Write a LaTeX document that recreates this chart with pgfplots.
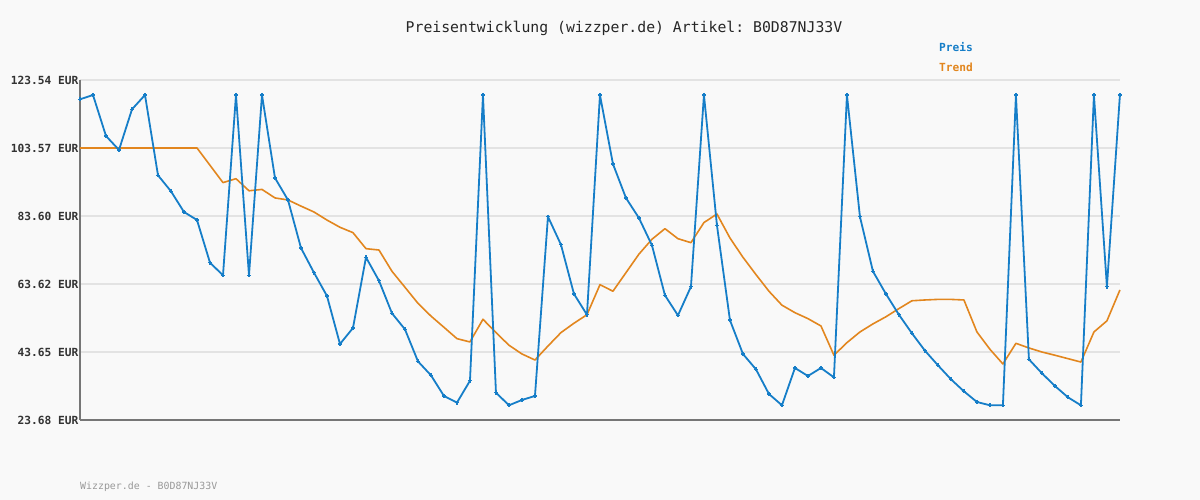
\documentclass[border=0pt]{standalone}
\usepackage{pgfplots}
\pgfplotsset{compat=1.18}
\usepackage{pgfplotstable}
\usepackage{fontspec}
\setmainfont{DejaVu Sans Mono}
\frenchspacing
\definecolor{bg}{RGB}{249,249,249}
\definecolor{preis}{RGB}{22,126,200}
\definecolor{trend}{RGB}{226,134,30}
\definecolor{gridc}{RGB}{227,227,227}
\definecolor{axc}{RGB}{118,118,118}
\pgfplotstableread{
i preis trend
0 117.87 103.57
1 119.13 103.57
2 107.09 103.57
3 103.00 103.57
4 114.93 103.57
5 119.13 103.57
6 95.55 103.57
7 90.85 103.57
8 84.77 103.57
9 82.42 103.57
10 69.88 98.50
11 66.18 93.40
12 119.13 94.55
13 66.18 91.00
14 119.13 91.40
15 94.76 88.90
16 88.30 88.30
17 74.20 86.50
18 66.95 84.77
19 60.10 82.40
20 46.00 80.28
21 50.70 78.70
22 71.47 74.00
23 64.60 73.60
24 55.02 67.35
25 50.30 62.66
26 40.90 57.95
27 36.80 54.20
28 30.74 50.90
29 28.78 47.57
30 35.20 46.60
31 119.13 53.26
32 31.70 49.35
33 28.00 45.64
34 29.56 43.07
35 30.74 41.30
36 83.40 45.40
37 75.17 49.35
38 60.70 52.10
39 54.60 54.60
40 119.13 63.42
41 98.87 61.50
42 88.89 66.95
43 83.00 72.40
44 74.99 76.76
45 60.30 79.87
46 54.40 76.93
47 62.85 75.76
48 119.13 81.67
49 80.86 84.18
50 53.00 77.14
51 43.07 71.47
52 38.57 66.40
53 31.32 61.50
54 28.00 57.40
55 38.96 55.20
56 36.60 53.45
57 38.96 51.30
58 36.20 42.70
59 119.13 46.40
60 83.40 49.53
61 67.35 51.90
62 60.70 54.00
63 54.60 56.40
64 49.14 58.70
65 44.04 58.93
66 39.75 59.10
67 35.64 59.10
68 32.10 58.93
69 28.97 49.53
70 28.00 44.45
71 28.00 40.13
72 119.13 46.20
73 41.50 44.83
74 37.40 43.65
75 33.67 42.70
76 30.35 41.70
77 28.00 40.70
78 119.13 49.53
79 62.85 52.80
80 119.13 61.87
}\datatable
\begin{document}
\begin{tikzpicture}
\fill[bg] (0pt,0pt) rectangle (1200pt,500pt);
\useasboundingbox (0pt,0pt) rectangle (1200pt,500pt);
\begin{axis}[
  at={(80pt,80pt)}, anchor=south west,
  scale only axis, width=1040pt, height=340pt,
  xmin=0, xmax=80, ymin=23.68, ymax=123.54,
  axis x line=bottom, axis y line=left,
  axis line style={-, draw=axc, line width=2.2pt},
  xtick=\empty,
  ytick={23.68,43.65,63.62,83.60,103.57,123.54},
  yticklabels={23.68 EUR,43.65 EUR,63.62 EUR,83.60 EUR,103.57 EUR,123.54 EUR},
  yticklabel style={font=\fontsize{11.2}{12}\selectfont\bfseries, text=black!80, inner sep=1.5pt},
  major tick length=0pt,
  ymajorgrids, grid style={draw=gridc, line width=2pt},
  clip=false,
]
\addplot[trend, line width=1.6pt, line join=round] table[x=i, y=trend] {\datatable};
\addplot[preis, line width=1.8pt, line join=round, mark=+, mark size=2pt, mark options={line width=1.4pt}] table[x=i, y=preis] {\datatable};
\end{axis}
\node[font=\fontsize{14.8}{16}\selectfont, text=black!85] at (624pt,472pt) {Preisentwicklung (wizzper.de) Artikel: B0D87NJ33V};
\node[font=\fontsize{11.2}{12}\selectfont\bfseries, text=preis, anchor=west, inner sep=0pt] at (939pt,453pt) {Preis};
\node[font=\fontsize{11.2}{12}\selectfont\bfseries, text=trend, anchor=west, inner sep=0pt] at (939pt,433pt) {Trend};
\node[font=\fontsize{9.9}{11}\selectfont, text=black!40, anchor=west, inner sep=0pt] at (80pt,13pt) {Wizzper.de - B0D87NJ33V};
\end{tikzpicture}
\end{document}
